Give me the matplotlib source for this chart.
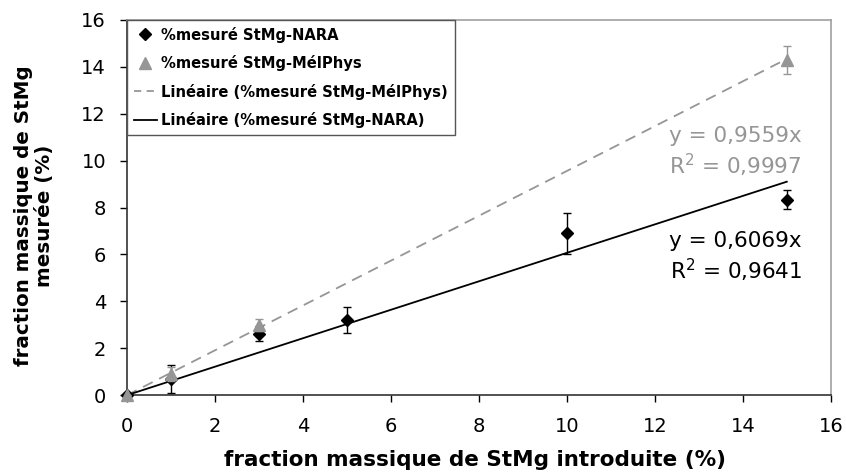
import matplotlib
matplotlib.use("Agg")
import matplotlib.pyplot as plt
from matplotlib.lines import Line2D
import numpy as np

x_nara = [0, 1, 3, 5, 10, 15]
y_nara = [0, 0.68, 2.63, 3.22, 6.9, 8.33]
err_nara = [0, 0.6, 0.33, 0.55, 0.86, 0.4]

x_mel = [0, 1, 3, 15]
y_mel = [0, 0.9, 2.99, 14.3]
err_mel = [0, 0.3, 0.27, 0.6]

slope_nara = 0.6069
slope_mel = 0.9559
fit_x = [0, 15]

gray = '#969696'

plt.rcParams['font.family'] = ['DejaVu Sans']

fig = plt.figure(figsize=(8.46, 4.75), dpi=100)
ax = fig.add_axes([0.150, 0.168, 0.832, 0.790])

# trend lines
ax.plot(fit_x, [slope_mel * v for v in fit_x], color=gray, lw=1.3,
        ls=(0, (6, 4)), zorder=2)
ax.plot(fit_x, [slope_nara * v for v in fit_x], color='black', lw=1.3, zorder=2)

# points with error bars
e1 = ax.errorbar(x_nara, y_nara, yerr=err_nara, fmt='D', color='black', ms=6.5,
                 elinewidth=1, capsize=3, capthick=1, zorder=3)
e2 = ax.errorbar(x_mel, y_mel, yerr=err_mel, fmt='^', color=gray, ms=8,
                 elinewidth=1, capsize=3, capthick=1, zorder=4)
for e in (e1, e2):
    e[0].set_clip_on(False)

ax.set_xlim(0, 16)
ax.set_ylim(0, 16)
ax.set_xticks(np.arange(0, 17, 2))
ax.set_yticks(np.arange(0, 17, 2))
ax.tick_params(direction='out', length=5, width=1, labelsize=14)
ax.tick_params(axis='y', pad=10)
ax.tick_params(axis='x', pad=11)

for s in ['top', 'right']:
    ax.spines[s].set_color('#a0a0a0')
    ax.spines[s].set_linewidth(1.2)
for s in ['left', 'bottom']:
    ax.spines[s].set_color('#333333')
    ax.spines[s].set_linewidth(1.2)

fig.text(475 / 846, 1 - 460 / 475, 'fraction massique de StMg introduite (%)',
         fontsize=15.5, fontweight='bold', ha='center', va='center')
fig.text(34 / 846, 1 - 216 / 475, 'fraction massique de StMg\nmesurée (%)',
         fontsize=14.3, fontweight='bold', ha='center', va='center',
         rotation=90, multialignment='center', linespacing=1.15)

# equation labels
ax.text(15.34, 11.07, 'y = 0,9559x', color=gray, fontsize=15.5, ha='right', va='center')
ax.text(15.34, 9.79, 'R$^2$ = 0,9997', color=gray, fontsize=15.5, ha='right', va='center')
ax.text(15.34, 6.58, 'y = 0,6069x', color='black', fontsize=15.5, ha='right', va='center')
ax.text(15.34, 5.34, 'R$^2$ = 0,9641', color='black', fontsize=15.5, ha='right', va='center')

handles = [
    Line2D([], [], ls='none', marker='D', color='black', ms=6),
    Line2D([], [], ls='none', marker='^', color=gray, ms=8),
    Line2D([], [], color=gray, lw=1.3, ls=(0, (4, 3))),
    Line2D([], [], color='black', lw=1.3),
]
labels = ['%mesuré StMg-NARA', '%mesuré StMg-MélPhys',
          'Linéaire (%mesuré StMg-MélPhys)', 'Linéaire (%mesuré StMg-NARA)']
leg = ax.legend(handles, labels, loc='upper left', bbox_to_anchor=(0.0, 1.0),
                frameon=True, fancybox=False, edgecolor='#555555', framealpha=1,
                prop={'weight': 'bold', 'size': 10.6}, handlelength=1.6,
                borderaxespad=0.0, labelspacing=0.85, handletextpad=0.3,
                borderpad=0.45)
leg.get_frame().set_linewidth(1.0)

fig.savefig('out.png', dpi=100)
